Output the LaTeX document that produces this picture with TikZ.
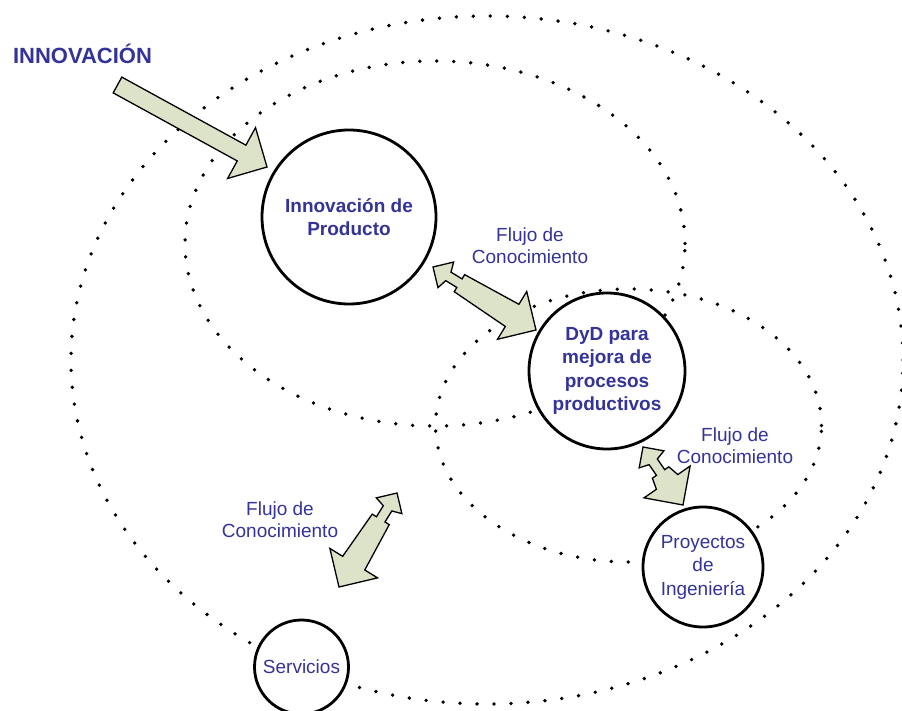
\documentclass[tikz,border=0pt]{standalone}
\usepackage{fontspec}
\setmainfont{Liberation Sans}
\usetikzlibrary{calc}

\definecolor{azul}{RGB}{51,51,153}
\definecolor{verdoso}{RGB}{221,227,201}

% flecha doble: punta chica en #1, punta grande en #2
\newcommand{\flujo}[2]{%
  \draw[flecha] let \p1=($(#2)-(#1)$), \n1={atan2(\y1,\x1)}, \n2={veclen(\x1,\y1)} in
    (#1) -- ($(#1)+(\n1:15pt)+(\n1+90:15pt)$) -- ($(#1)+(\n1:18pt)+(\n1+90:5pt)$)
    -- ($(#1)+(\n1:31pt)+(\n1+90:5pt)$) -- ($(#1)+(\n1:31pt)+(\n1+90:10pt)$)
    -- ($(#1)+(\n1:{\n2-28pt})+(\n1+90:13pt)$) -- ($(#1)+(\n1:{\n2-28pt})+(\n1+90:28pt)$)
    -- (#2)
    -- ($(#1)+(\n1:{\n2-28pt})+(\n1-90:28pt)$) -- ($(#1)+(\n1:{\n2-28pt})+(\n1-90:13pt)$)
    -- ($(#1)+(\n1:31pt)+(\n1-90:10pt)$) -- ($(#1)+(\n1:31pt)+(\n1-90:5pt)$)
    -- ($(#1)+(\n1:18pt)+(\n1-90:5pt)$) -- ($(#1)+(\n1:15pt)+(\n1-90:15pt)$)
    -- cycle;
}

\begin{document}
\begin{tikzpicture}[x=1pt,y=-1pt,
    punteado/.style={line width=3.8pt,line cap=round,dash pattern=on 0pt off 17pt},
    circulo/.style={circle,draw,fill=white,line width=2.8pt,inner sep=0pt,align=center,text=azul,font=\fontsize{19}{23.5}\selectfont},
    negrita/.style={font=\fontsize{19}{23.5}\selectfont\bfseries},
    etiqueta/.style={align=center,text=azul,font=\fontsize{19}{22}\selectfont},
    flecha/.style={draw=black,fill=verdoso,line width=1.3pt,line join=miter}]
    \useasboundingbox (0,0) rectangle (902,711);

    % elipses punteadas
    \draw[punteado] (487,360) ellipse [x radius=416pt, y radius=344pt];
    \draw[punteado] (435,243.5) ellipse [x radius=250pt, y radius=182.5pt];
    \draw[punteado] (628.5,425.5) ellipse [x radius=193pt, y radius=136.5pt];

    % circulos
    \node[circulo,negrita,minimum size=174pt] (prod) at (349,217) {Innovación de\\Producto};
    \node[circulo,negrita,minimum size=156pt] (dyd) at (607,371) {DyD para\\mejora de\\procesos\\productivos};
    \node[circulo,minimum size=120pt] (proy) at (703,567) {Proyectos\\de\\Ingeniería};
    \node[circulo,minimum size=94pt] (serv) at (301.5,667) {Servicios};

    \node[text=azul,font=\fontsize{22}{26}\selectfont\bfseries] (innov) at (82.5,54) {INNOVACIÓN};

    \node[etiqueta] (l1) at (530,246) {Flujo de\\Conocimiento};
    \node[etiqueta] (l2) at (735,446) {Flujo de\\Conocimiento};
    \node[etiqueta] (l3) at (280,520) {Flujo de\\Conocimiento};

    \coordinate (e0) at ($(innov)+(35,31)$);
    \coordinate (e1) at ($(prod)+(-82,-50)$);
    \coordinate (f1a) at ($(prod)+(84,50)$);
    \coordinate (f1b) at ($(dyd)+(-71,-41)$);
    \coordinate (f2a) at ($(dyd)+(36,76)$);
    \coordinate (f2b) at ($(proy)+(-20,-62)$);
    \coordinate (f3a) at ($(serv)+(95.5,-174)$);
    \coordinate (f3b) at ($(serv)+(37.5,-80)$);

    % flecha grande
    \draw[flecha] let \p1=($(e1)-(e0)$), \n1={atan2(\y1,\x1)}, \n2={veclen(\x1,\y1)} in
        ($(e0)+(\n1+90:9pt)$) -- ($(e0)+(\n1:{\n2-29pt})+(\n1+90:9pt)$)
        -- ($(e0)+(\n1:{\n2-29pt})+(\n1+90:29pt)$) -- (e1)
        -- ($(e0)+(\n1:{\n2-29pt})+(\n1-90:29pt)$) -- ($(e0)+(\n1:{\n2-29pt})+(\n1-90:9pt)$)
        -- ($(e0)+(\n1-90:9pt)$) -- cycle;

    \flujo{f1a}{f1b}
    \flujo{f2a}{f2b}
    \flujo{f3a}{f3b}
\end{tikzpicture}
\end{document}
